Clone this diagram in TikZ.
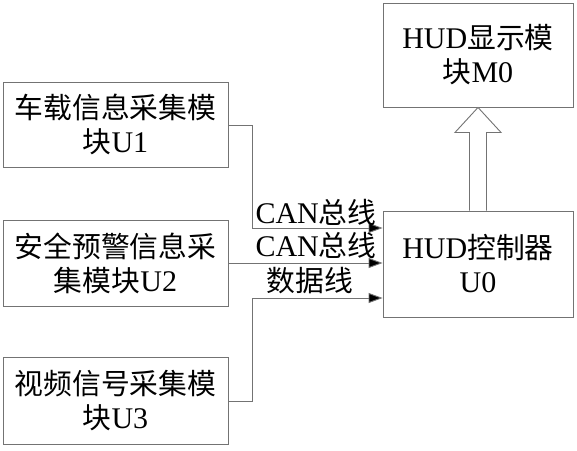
\documentclass[tikz,border=0pt]{standalone}
\usepackage{fontspec}
\setmainfont{Liberation Serif}
\newfontfamily\cjk{Noto Sans CJK SC}[Scale=0.96]
\usetikzlibrary{arrows.meta,calc}
\begin{document}
\begin{tikzpicture}[x=1pt,y=-1pt,
  box/.style={draw=black!55,line width=0.9pt,inner sep=0pt,align=center,
    font=\fontsize{30}{34}\selectfont},
  conn/.style={draw=black!55,line width=0.9pt,-{Triangle[length=14pt,width=10pt,fill=black]}},
  lbl/.style={font=\fontsize{30}{32}\selectfont,inner sep=0pt}]
\useasboundingbox (0,0) rectangle (577,450);
\node[box,minimum width=225pt,minimum height=85pt] (u1) at (115.5,124.5) {{\cjk 车载信息采集模}\\{\cjk 块}U1};
\node[box,minimum width=225pt,minimum height=86pt] (u2) at (115.5,263) {{\cjk 安全预警信息采}\\{\cjk 集模块}U2};
\node[box,minimum width=225pt,minimum height=87pt] (u3) at (115.5,400.5) {{\cjk 视频信号采集模}\\{\cjk 块}U3};
\node[box,minimum width=190pt,minimum height=106pt] (ctrl) at (478,264) {HUD{\cjk 控制器}\\U0};
\node[box,minimum width=190pt,minimum height=104pt] (m0) at (478,55) {HUD{\cjk 显示模}\\{\cjk 块}M0};
\coordinate (j1) at (252,125);
\coordinate (j3) at (252,401);
\draw[conn] (u1.east |- j1) -- (j1) |- (ctrl.west |- 0,228);
\draw[conn] (u2.east) -- (ctrl.west |- u2.east);
\draw[conn] (u3.east |- j3) -- (j3) |- (ctrl.west |- 0,298);
\node[lbl] (l1) at (316,212) {CAN{\cjk 总线}};
\node[lbl] (l2) at (316,245) {CAN{\cjk 总线}};
\node[lbl] (l3) at (310,281) {{\cjk 数据线}};
\draw[draw=black!55,line width=0.9pt,fill=white]
  ($(ctrl.north)+(-8.5,0)$) -- ($(m0.south)+(-8.5,25)$) -- ($(m0.south)+(-23,25)$)
  -- (m0.south) -- ($(m0.south)+(23,25)$) -- ($(m0.south)+(8.5,25)$) -- ($(ctrl.north)+(8.5,0)$);
\end{tikzpicture}
\end{document}
